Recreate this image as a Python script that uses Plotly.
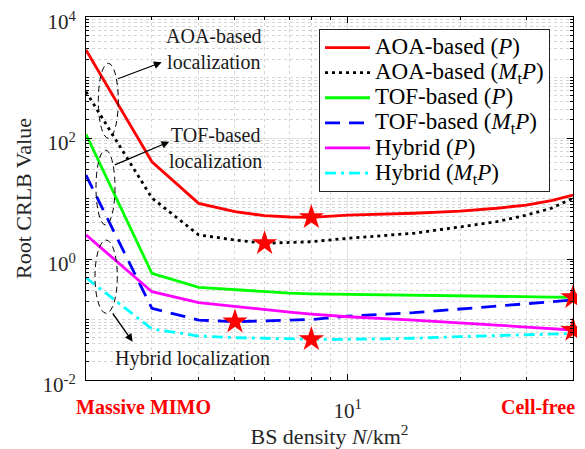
import plotly.graph_objects as go

# ---------------- data ----------------
N = [2, 3, 4, 5, 6, 7, 8, 10, 15, 20, 25, 30, 35, 40]

aoa_P   = [2850, 40.5, 8.3, 6.05, 5.2, 4.95, 4.89, 5.33, 5.7, 6.2, 6.9, 7.8, 9.2, 11.4]
aoa_MP  = [580, 10.2, 2.5, 2.06, 1.82, 1.86, 1.93, 2.2, 2.66, 3.4, 4.14, 5.3, 6.9, 10.1]
tof_P   = [115, 0.58, 0.34, 0.31, 0.288, 0.273, 0.266, 0.26, 0.252, 0.245, 0.24, 0.237, 0.235, 0.233]
tof_MP  = [24.4, 0.153, 0.098, 0.092, 0.095, 0.098, 0.1, 0.114, 0.13, 0.149, 0.165, 0.18, 0.192, 0.21]
hyb_P   = [2.5, 0.288, 0.19, 0.163, 0.144, 0.132, 0.123, 0.111, 0.098, 0.089, 0.081, 0.075, 0.07, 0.067]
hyb_MP  = [0.49, 0.0697, 0.0533, 0.05, 0.049, 0.048, 0.047, 0.047, 0.049, 0.052, 0.054, 0.056, 0.057, 0.059]

series_names = [
    "AOA-based (<i>P</i>)",
    "AOA-based (<i>M</i><sub>t</sub><i>P</i>)",
    "TOF-based (<i>P</i>)",
    "TOF-based (<i>M</i><sub>t</sub><i>P</i>)",
    "Hybrid (<i>P</i>)",
    "Hybrid (<i>M</i><sub>t</sub><i>P</i>)",
]
series_values = [aoa_P, aoa_MP, tof_P, tof_MP, hyb_P, hyb_MP]
series_colors = ["#ff0000", "#000000", "#00ff00", "#0000ff", "#ff00ff", "#00ffff"]
series_dash = ["solid", "3px,4px", "solid", "15px,9px", "solid", "11px,5px,3px,5px"]

# star markers: (series index, N value)
star_points = [(0, 8), (1, 6), (3, 5), (5, 8), (2, 40), (4, 40)]

x_ticks = [10]
x_ticktext = ["10<sup>1</sup>"]
y_ticks = [1e-2, 1e0, 1e2, 1e4]
y_ticktext = ["10<sup>-2</sup>", "10<sup>0</sup>", "10<sup>2</sup>", "10<sup>4</sup>"]

# ---------------- figure ----------------
FONT = "Liberation Serif, Times New Roman, Times, serif"
fig = go.Figure()

for name, vals, col, dash in zip(series_names, series_values, series_colors, series_dash):
    fig.add_trace(go.Scatter(
        x=N, y=vals, mode="lines", name=f'<span style="font-size:23px">{name}</span>',
        line=dict(color=col, width=2.8, dash=dash),
    ))

star_x = [N[N.index(n)] for i, n in star_points]
star_y = [series_values[i][N.index(n)] for i, n in star_points]
fig.add_trace(go.Scatter(
    x=star_x, y=star_y, mode="markers", showlegend=False, cliponaxis=False,
    marker=dict(symbol="star", size=19, color="#ff0000", line=dict(width=0)),
))

grid_major = "#e3e3e3"
grid_minor = "#d4d4d4"

fig.update_xaxes(
    type="log", range=[0.30103, 1.60206],
    tickvals=x_ticks, ticktext=x_ticktext,
    ticks="inside", ticklen=6, tickcolor="black", ticklabelstandoff=12,
    ticklabeloverflow="allow",
    showline=True, linecolor="black", linewidth=1, mirror="allticks",
    showgrid=True, gridcolor=grid_major, gridwidth=1,
    tickfont=dict(family=FONT, size=21, color="#262626"),
    minor=dict(dtick="D1", ticks="inside", ticklen=3, tickcolor="black",
               showgrid=True, gridcolor=grid_minor, griddash="dot", gridwidth=1),
    title=dict(text="BS density <i>N</i>/km<sup>2</sup>",
               font=dict(family=FONT, size=22, color="#262626"), standoff=4),
    zeroline=False,
)
fig.update_yaxes(
    type="log", range=[-2, 4],
    tickvals=y_ticks, ticktext=y_ticktext,
    ticks="inside", ticklen=6, tickcolor="black", ticklabelstandoff=5,
    ticklabelshift=5, ticklabeloverflow="allow",
    showline=True, linecolor="black", linewidth=1, mirror="allticks",
    showgrid=True, gridcolor=grid_major, gridwidth=1,
    tickfont=dict(family=FONT, size=21, color="#262626"),
    minor=dict(dtick="D1", ticks="inside", ticklen=3, tickcolor="black",
               showgrid=True, gridcolor=grid_minor, griddash="dot", gridwidth=1),
    title=dict(text="Root CRLB Value",
               font=dict(family=FONT, size=22, color="#262626"), standoff=4),
    zeroline=False,
)

# page places the figure 8px from the window's top-left corner
OFF = 8
L, R, T, B = 86 - OFF, 12, 17 - OFF, 69
W, H = 585 - OFF, 449 - OFF
PW, PH = W - L - R, H - T - B
PL, PT = 86, 17  # plot area corner in window pixels


def px(xp):
    return (xp - PL) / PW


def py(yp):
    return 1 - (yp - PT) / PH


# dashed ellipses (paper coords)
ellipses = [(98.3, 63.3, 118.3, 138.3), (96, 150, 115, 225), (95, 240, 117.3, 313.3)]
for x0, y0, x1, y1 in ellipses:
    fig.add_shape(type="circle", xref="paper", yref="paper",
                  x0=px(x0), x1=px(x1), y0=py(y1), y1=py(y0),
                  line=dict(color="black", width=1, dash="6px,4px"))

# arrows (head, tail) in pixels
arrows = [((161.7, 62.3), (116.5, 79.3)), ((169.3, 141.7), (113.3, 165.5)), ((132.7, 341.7), (111.7, 312))]
for (hx, hy), (tx, ty) in arrows:
    fig.add_annotation(xref="paper", yref="paper", x=px(hx), y=py(hy), text="",
                       showarrow=True, ax=tx - hx, ay=ty - hy, axref="pixel", ayref="pixel",
                       arrowhead=2, arrowsize=1.2, arrowwidth=1.3, arrowcolor="black")

texts = [
    ("AOA-based<br>localization", 213.5, 49),
    ("TOF-based<br>localization", 215.5, 148),
    ("Hybrid localization", 192.5, 358),
]
for t, x, y in texts:
    fig.add_annotation(xref="paper", yref="paper", x=px(x), y=py(y), text=t,
                       showarrow=False, xanchor="center", yanchor="middle",
                       font=dict(family=FONT, size=20, color="#1a1a1a"))

for t, x, y in [("<b>Massive MIMO</b>", 143, 407), ("<b>Cell-free</b>", 538, 407)]:
    fig.add_annotation(xref="paper", yref="paper", x=px(x), y=py(y), text=t,
                       showarrow=False, xanchor="center", yanchor="middle",
                       font=dict(family=FONT, size=20, color="#ff0000"))

fig.update_layout(
    width=W, height=H,
    margin=dict(l=L, r=R, t=T, b=B, autoexpand=False),
    paper_bgcolor="white", plot_bgcolor="white",
    font=dict(family=FONT, color="#262626"),
    legend=dict(x=px(319), y=py(29), xanchor="left", yanchor="top",
                font=dict(family=FONT, size=17.0, color="black"),
                bgcolor="white", bordercolor="#262626", borderwidth=1,
                itemwidth=45, tracegroupgap=0),
    showlegend=True,
)

fig.write_html("out.html")
